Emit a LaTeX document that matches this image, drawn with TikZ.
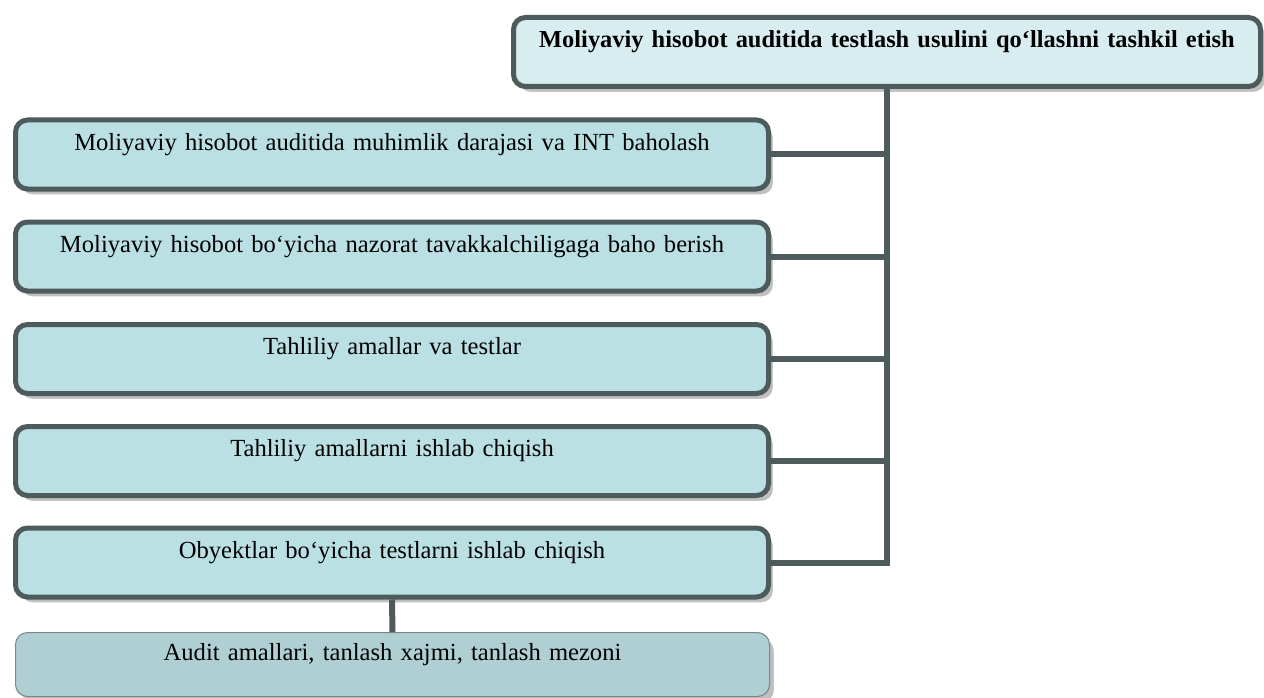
\documentclass[tikz,border=0pt]{standalone}
\usepackage{fontspec}
\setmainfont{Liberation Serif}
\usetikzlibrary{shadows}
\definecolor{edge}{HTML}{4E5B5C}
\definecolor{boxfill}{HTML}{BAE0E3}
\definecolor{headfill}{HTML}{D8EDF0}
\definecolor{basefill}{HTML}{AFCFD2}
\definecolor{baseedge}{HTML}{7A8788}
\tikzset{
  shade box/.style={drop shadow={shadow xshift=5pt,shadow yshift=-6pt,fill=black!25,draw=white,line width=1.2pt,opacity=1}},
  stagebox/.style={shade box,draw=edge,line width=5pt,fill=boxfill,rounded corners=12pt,
    minimum width=753pt,text width=745pt,align=center,inner ysep=5pt,
    text height=25pt,text depth=34pt,font=\fontsize{24.6}{28}\selectfont},
  headbox/.style={stagebox,fill=headfill,minimum width=747pt,text width=740pt,font=\fontsize{24.4}{28}\selectfont\bfseries},
  basebox/.style={shade box,draw=baseedge,line width=1pt,fill=basefill,rounded corners=12pt,
    minimum width=754pt,text width=745pt,align=center,inner ysep=5pt,
    text height=23pt,text depth=31pt,font=\fontsize{24.6}{28}\selectfont},
  link/.style={draw=edge,line width=6pt}
}
\begin{document}
\begin{tikzpicture}[x=1pt,y=-1pt]
\useasboundingbox (0,0) rectangle (1264,698);
\node[headbox] (top) at (887,52) {Moliyaviy hisobot auditida testlash usulini qo‘llashni tashkil etish};
\node[stagebox] (b1) at (392,154.5) {Moliyaviy hisobot auditida muhimlik darajasi va INT baholash};
\node[stagebox] (b2) at (392,256.5) {Moliyaviy hisobot bo‘yicha nazorat tavakkalchiligaga baho berish};
\node[stagebox] (b3) at (392,359) {Tahliliy amallar va testlar};
\node[stagebox] (b4) at (392,461) {Tahliliy amallarni ishlab chiqish};
\node[stagebox] (b5) at (392,562.5) {Obyektlar bo‘yicha testlarni ishlab chiqish};
\node[basebox] (bot) at (392.5,664.5) {Audit amallari, tanlash xajmi, tanlash mezoni};
% spine from the heading down to the last stage
\draw[link] (top.south) -- (top.south |- b5.east) -- (b5.east);
\foreach \b in {b1,b2,b3,b4}
  \draw[link] (\b.east) -- (\b.east -| top.south);
\draw[link] (b5.south) -- (bot.north);
\end{tikzpicture}
\end{document}
